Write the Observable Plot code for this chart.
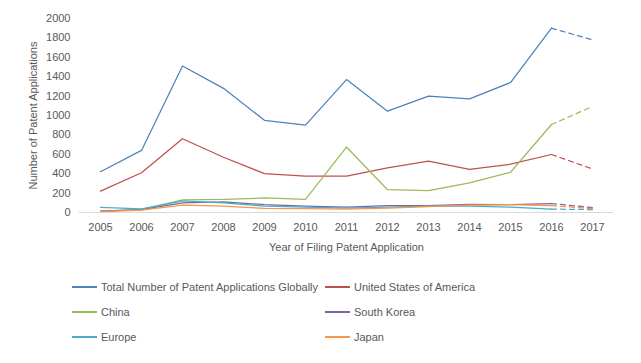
<!DOCTYPE html>
<html><head><meta charset="utf-8">
<script src="https://cdn.jsdelivr.net/npm/d3@7"></script>
<script src="https://cdn.jsdelivr.net/npm/@observablehq/plot@0.6"></script>
<style>
body{margin:0;background:#fff;font-family:"Liberation Sans",Arial,sans-serif;}
#legend{position:relative;width:641px;height:100px;font-size:11px;color:#595959;}
.item{position:absolute;display:flex;align-items:center;height:14px;white-space:nowrap}
.sw{display:inline-block;width:25px;height:2px;margin-right:4px}
</style></head><body><div id="chart"></div><div id="legend"></div>
<script>
const years = [2005,2006,2007,2008,2009,2010,2011,2012,2013,2014,2015,2016,2017];
const seriesNames = ["Total Number of Patent Applications Globally","United States of America","China","South Korea","Europe","Japan"];
const colors = ["#4F81BD","#C0504D","#9BBB59","#8064A2","#4BACC6","#F79646"];
const total  = [420,640,1510,1280,950,900,1370,1045,1200,1172,1340,1900,1780];
const usa    = [220,410,760,570,400,375,375,460,530,445,498,598,448];
const china  = [15,30,130,135,150,135,675,235,226,305,415,907,1093];
const korea  = [15,30,100,110,80,65,55,70,70,85,80,92,50];
const europe = [52,38,120,100,65,55,45,55,65,65,55,35,30];
const japan  = [10,25,75,65,42,40,35,45,60,75,82,70,40];
const yTicks = [0,200,400,600,800,1000,1200,1400,1600,1800,2000];
const xTitle = "Year of Filing Patent Application";
const yTitle = "Number of Patent Applications";

const allSeries = [total, usa, china, korea, europe, japan];
const solid = [], dashed = [];
allSeries.forEach((vals, si) => {
  vals.forEach((v, i) => {
    const row = {series: seriesNames[si], year: years[i], value: v};
    if (i <= years.length - 2) solid.push(row);
    if (i >= years.length - 2) dashed.push(row);
  });
});

const chart = Plot.plot({
  width: 641, height: 263,
  marginLeft: 79, marginRight: 28, marginTop: 18, marginBottom: 51,
  style: {fontFamily: "Liberation Sans, Arial, sans-serif", fontSize: "11px", color: "#595959", background: "#fff"},
  x: {type: "point", domain: years, padding: 0.5},
  y: {domain: [0, 2000]},
  color: {domain: seriesNames, range: colors},
  marks: [
    Plot.axisY({ticks: yTicks, tickSize: 0, tickPadding: 9, tickFormat: d => String(d), label: yTitle, labelAnchor: "center", labelArrow: "none", labelOffset: 50}),
    Plot.axisX({tickSize: 0, tickPadding: 11, tickFormat: d => String(d), label: xTitle, labelAnchor: "center", labelArrow: "none", labelOffset: 38}),
    Plot.ruleY([0], {stroke: "#D9D9D9"}),
    Plot.line(solid, {x: "year", y: "value", z: "series", stroke: "series", strokeWidth: 1.25}),
    Plot.line(dashed, {x: "year", y: "value", z: "series", stroke: "series", strokeWidth: 1.25, strokeDasharray: "5,4"})
  ]
});
document.getElementById("chart").appendChild(chart);

const legend = document.getElementById("legend");
seriesNames.forEach((name, i) => {
  const item = document.createElement("div");
  item.className = "item";
  item.style.left = (i % 2 ? 325 : 72) + "px";
  item.style.top = (17 + Math.floor(i / 2) * 25) + "px";
  const sw = document.createElement("span");
  sw.className = "sw";
  sw.style.background = colors[i];
  const t = document.createElement("span");
  t.textContent = name;
  item.appendChild(sw); item.appendChild(t);
  legend.appendChild(item);
});
</script>
</body></html>
